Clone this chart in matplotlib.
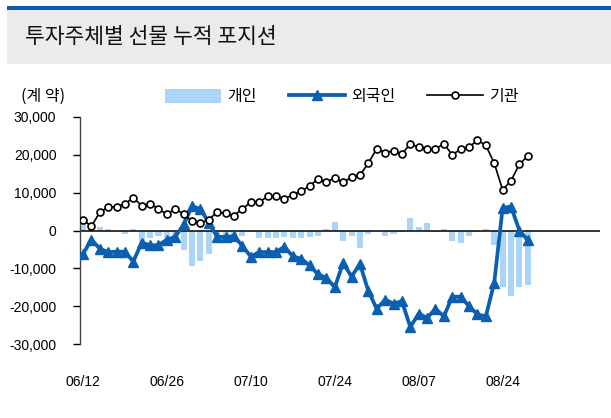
import matplotlib
matplotlib.use("Agg")
import matplotlib.pyplot as plt
from matplotlib.lines import Line2D
from matplotlib.patches import Patch, Rectangle
from matplotlib.ticker import FuncFormatter

plt.rcParams['font.family'] = ['Liberation Sans', 'Noto Sans CJK KR', 'DejaVu Sans']

# ---- data ----
tick_labels = ["06/12", "06/26", "07/10", "07/24", "08/07", "08/24"]
tick_index = [0, 10, 20, 30, 40, 50]

individual = [3500, 300, 900, 400, 0, -800, 300, -3300, -2000, -1400,
              -2000, -3000, -5100, -9300, -8100, -6100, -2000, -1800, -1300, -1400,
              -400, -2000, -2100, -2100, -1800, -2000, -2100, -1800, -1400, 400,
              2200, -2800, -1500, -4600, -800, 0, -1500, -900, -400, 3200,
              800, 2000, -400, 300, -2900, -3400, -1500, -400, 300, -3900,
              -14900, -17300, -14900, -14400]

foreign = [-6300, -2400, -4800, -5700, -5600, -5600, -8200, -3200, -3900, -3900,
           -2400, -1700, 1600, 6400, 5700, 2000, -1700, -1700, -1500, -4100,
           -6900, -5700, -5700, -5700, -4300, -6800, -7500, -9200, -11600, -12500,
           -15000, -8600, -12200, -8800, -16000, -20700, -18300, -19300, -18700, -25500,
           -22000, -23100, -20700, -22700, -17500, -17500, -20000, -22200, -22700, -13800,
           6000, 6300, 0, -2600]

institution = [2900, 1100, 4800, 6200, 6200, 7100, 8600, 6600, 7100, 5700,
               4300, 5700, 4400, 2400, 2000, 2900, 4900, 4500, 3950, 5700,
               7500, 7500, 9000, 9000, 8300, 9500, 10350, 11800, 13600, 12700,
               14000, 12700, 14100, 14600, 17800, 21600, 20600, 21050, 20200, 22900,
               22000, 21500, 21600, 22900, 20000, 21500, 22000, 23900, 22500, 17800,
               10700, 13200, 17500, 19700]

series_names = ["개인", "외국인", "기관"]
title = "투자주체별 선물 누적 포지션"
unit = "(계 약)"

c_bar = "#aad4f8"
c_blue = "#0a5fb0"
x = list(range(len(individual)))
kfam = ['Noto Sans CJK KR', 'DejaVu Sans']

fig = plt.figure(figsize=(6.11, 4.18), dpi=100)

# header band
fig.patches.append(Rectangle((7/611, 1-10/418), 1-7/611, 3.5/418, transform=fig.transFigure,
                             facecolor="#0b5cad", edgecolor="none"))
fig.patches.append(Rectangle((7/611, 1-64/418), 1-7/611, 54/418, transform=fig.transFigure,
                             facecolor="#ebebeb", edgecolor="none"))
fig.text(25/611, 1-37/418, title, fontsize=15.5, va="center", ha="left",
         family=kfam, weight="medium", color="#111111")

ax = fig.add_axes([80/611, 1-344/418, 520/611, 227/418])
ax.bar(x, individual, width=0.72, color=c_bar, zorder=1)
ax.axhline(0, color="black", lw=1.1, zorder=2)
ax.plot(x, foreign, color=c_blue, lw=2.7, marker="^", markersize=7,
        markerfacecolor=c_blue, markeredgecolor=c_blue, zorder=3)
ax.plot(x, institution, color="black", lw=1.2, marker="o", markersize=5,
        markerfacecolor="white", markeredgecolor="black", markeredgewidth=1.2, zorder=4)

ax.set_ylim(-30000, 30000)
ax.set_xlim(-0.35, 61.6)
ax.set_yticks(range(-30000, 30001, 10000))
ax.yaxis.set_major_formatter(FuncFormatter(lambda v, p: f"{int(v):,}"))
ax.set_xticks(tick_index)
ax.set_xticklabels(tick_labels)
ax.tick_params(axis="y", direction="out", length=5, width=1, labelsize=10, pad=12)
ax.tick_params(axis="x", length=0, labelsize=10, pad=22)
for s in ["top", "right", "bottom"]:
    ax.spines[s].set_visible(False)
ax.spines["left"].set_linewidth(1.0)
ax.spines["left"].set_color("#444444")

fig.text(21/611, 1-96/418, unit, fontsize=11.5, va="center", ha="left", family=kfam)

handles = [Patch(facecolor=c_bar, edgecolor="none"),
           Line2D([], [], color=c_blue, lw=2.7, marker="^", markersize=7),
           Line2D([], [], color="black", lw=1.2, marker="o", markersize=5,
                  markerfacecolor="white", markeredgewidth=1.2)]
leg = fig.legend(handles, series_names, loc="center", bbox_to_anchor=(342/611, 1-97/418),
                 ncol=3, frameon=False, handlelength=3.5, handleheight=1.0,
                 columnspacing=2.0, handletextpad=0.4,
                 prop={'family': kfam, 'size': 11.5})

fig.savefig("out.png", dpi=100)
